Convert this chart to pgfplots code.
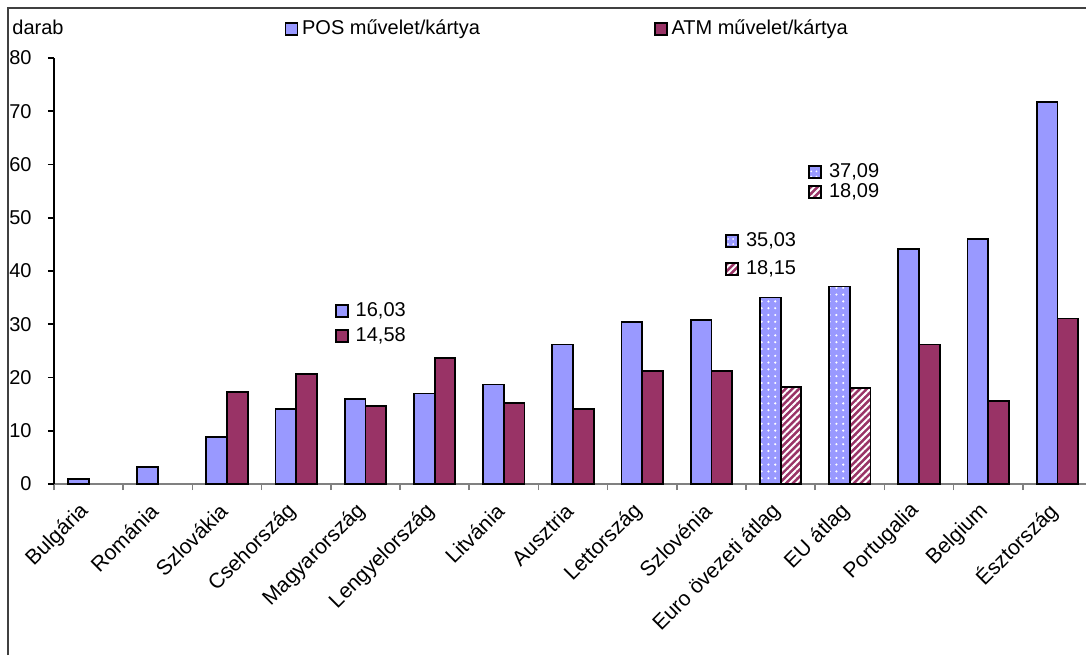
\documentclass[border=0pt]{standalone}
\usepackage{fontspec}
\setmainfont{Liberation Sans}
\usepackage{pgfplots}
\pgfplotsset{compat=1.18}
\usetikzlibrary{patterns.meta}
\definecolor{pos}{HTML}{9999FF}
\definecolor{atm}{HTML}{993366}
\definecolor{frame}{HTML}{404040}

\tikzset{
  posdots/.style={postaction={pattern={Dots[distance=2.6pt,radius=0.5pt]},pattern color=white},
                  postaction={draw=black,line width=0.8pt}},
  atmlines/.style={postaction={pattern={Lines[angle=45,distance=2.4pt,line width=1pt]},pattern color=white},
                   postaction={draw=black,line width=0.8pt}},
  key/.style={draw=black,line width=0.8pt,minimum size=6pt,inner sep=0pt,
              label distance=1.5pt}
}

\begin{document}
\begin{tikzpicture}[font=\fontsize{10}{12}\selectfont]
\useasboundingbox (0,0) rectangle (543pt,327.5pt);
\draw[line width=1pt,frame] (4pt,0) -- (4pt,323.5pt) -- (543pt,323.5pt);
\begin{axis}[
  at={(27pt,85.5pt)}, anchor=south west,
  scale only axis, width=515.9pt, height=213pt,
  xmin=-0.5, xmax=14.41, ymin=0, ymax=80,
  axis lines*=left,
  x axis line style={gray,line width=0.8pt},
  y axis line style={black,line width=0.8pt},
  ytick={0,10,...,80},
  xtick={0,...,14},
  xticklabels={Bulgária,Románia,Szlovákia,Csehország,Magyarország,Lengyelország,Litvánia,Ausztria,Lettország,Szlovénia,Euro övezeti átlag,EU átlag,Portugalia,Belgium,Észtország},
  minor xtick={-0.5,0.5,...,13.5},
  major x tick style={draw=none},
  minor x tick style={gray,line width=0.8pt},
  y tick style={black,line width=0.8pt},
  tick align=outside,
  major tick length=3pt, minor tick length=3pt,
  yticklabel shift=8pt,
  yticklabel style={font=\fontsize{10}{12}\selectfont, inner sep=0pt},
  xticklabel style={font=\fontsize{10.6}{12}\selectfont, rotate=45, anchor=east, xshift=-4pt, yshift=-5pt},
  /pgf/number format/assume math mode=true,
  ylabel={darab},
  every axis y label/.style={at={(axis description cs:-0.0407,1.073)}, anchor=west, inner sep=0pt},
  legend style={at={(0.223,1.068)}, anchor=west, draw=none, fill=none, inner sep=0pt,
    nodes={inner sep=2pt}, font=\fontsize{10}{12}\selectfont},
  legend columns=2,
  legend cell align=left,
  /tikz/every even column/.append style={column sep=85pt},
  clip=false,
]
% POS transactions per card
\addplot[ybar, bar width=0.3, bar shift=-0.15, fill=pos, draw=black, line width=0.9pt,
  legend image code/.code={\draw[fill=pos,draw=black,line width=0.8pt] (0pt,-3pt) rectangle (6pt,3pt);}]
  coordinates {(0,1.0) (1,3.2) (2,8.8) (3,14.1) (4,16.03) (5,17.0) (6,18.7) (7,26.2)
               (8,30.4) (9,30.8) (12,44.2) (13,46.0) (14,71.8)};
\addlegendentry{POS művelet/kártya}
% ATM transactions per card
\addplot[ybar, bar width=0.3, bar shift=0.15, fill=atm, draw=black, line width=0.9pt,
  legend image code/.code={\draw[fill=atm,draw=black,line width=0.8pt] (0pt,-3pt) rectangle (6pt,3pt);}]
  coordinates {(2,17.3) (3,20.6) (4,14.58) (5,23.6) (6,15.2) (7,14.1)
               (8,21.2) (9,21.2) (12,26.2) (13,15.6) (14,31.1)};
\addlegendentry{ATM művelet/kártya}
% averages: base colour, then white pattern on top
\addplot[ybar, bar width=0.3, bar shift=-0.15, fill=pos, draw=black, line width=0.9pt, forget plot]
  coordinates {(10,35.03) (11,37.09)};
\addplot[ybar, bar width=0.3, bar shift=-0.15, draw=black, line width=0.9pt, forget plot,
  pattern={Dots[distance=3.4pt,radius=0.6pt]}, pattern color=white]
  coordinates {(10,35.03) (11,37.09)};
\addplot[ybar, bar width=0.3, bar shift=0.15, fill=atm, draw=black, line width=0.9pt, forget plot]
  coordinates {(10,18.15) (11,18.09)};
\addplot[ybar, bar width=0.3, bar shift=0.15, draw=black, line width=0.9pt, forget plot,
  pattern={Lines[angle=45,distance=2.4pt,line width=1pt]}, pattern color=white]
  coordinates {(10,18.15) (11,18.09)};

% value keys
\node[key,fill=pos,label={right:16,03}] at (axis cs:3.66,32.5) {};
\node[key,fill=atm,label={right:14,58}] at (axis cs:3.66,27.8) {};
\node[key,fill=pos,posdots,label={right:35,03}] at (axis cs:9.30,45.6) {};
\node[key,fill=atm,atmlines,label={right:18,15}] at (axis cs:9.30,40.4) {};
\node[key,fill=pos,posdots,label={right:37,09}] at (axis cs:10.50,58.6) {};
\node[key,fill=atm,atmlines,label={right:18,09}] at (axis cs:10.50,54.8) {};
\end{axis}
\end{tikzpicture}
\end{document}
